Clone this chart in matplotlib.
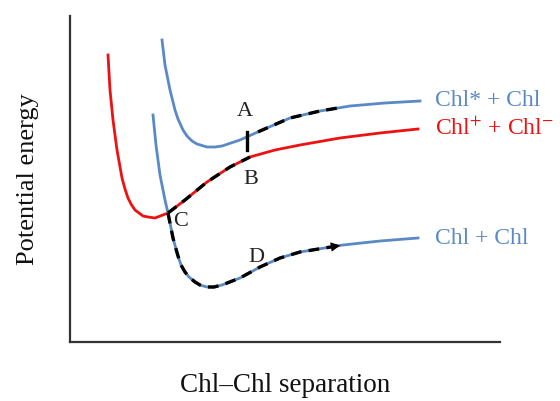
import numpy as np
import matplotlib.pyplot as plt

plt.rcParams['font.family'] = ['Liberation Serif', 'DejaVu Serif']
plt.rcParams['mathtext.fontset'] = 'stix'

# separation (arbitrary units) and potential energy (arbitrary units)
excited_x = [92, 95, 100, 105, 108, 113, 117, 122, 127, 137, 145, 152, 170, 190, 220, 250, 280, 315, 350]
excited_y = [302, 277, 252, 232, 223, 212, 206, 201, 198, 195, 195, 196, 202, 211, 224, 231, 236, 239, 241]

ion_x = [38, 40, 43, 47, 52, 55, 58, 61, 65, 69, 73, 78, 85, 98, 115, 137, 160, 180, 205, 230, 270, 310, 348]
ion_y = [287, 252, 222, 192, 164, 153, 144, 138, 132, 129, 126, 125, 124, 129, 142, 160, 175, 185, 192, 197, 204, 209, 213]

ground_x = [83, 86, 90, 95, 98, 103, 106, 108, 111, 115, 119, 125, 130, 137, 144, 152, 170, 190, 210, 230, 273, 310, 348]
ground_y = [227, 197, 167, 142, 129, 104, 93, 86, 77, 70, 65, 60, 57, 55, 55, 57, 64, 75, 84, 90, 97, 101, 104]

labels = ["Chl* + Chl", r"Chl$^{+}$ + Chl$^{-}$", "Chl + Chl"]
points = {"A": (175, 231), "B": (181, 162), "C": (111, 121), "D": (186, 84)}

blue = '#5a8ac6'
red = '#ee1111'

fig = plt.figure(figsize=(5.6, 4.01), dpi=100)
ax = fig.add_axes([70/560, 59/401, 430/560, 326/401])
ax.set_xlim(0, 430)
ax.set_ylim(0, 326)

ax.plot(excited_x, excited_y, color=blue, lw=2)
ax.plot(ion_x, ion_y, color=red, lw=2)
ax.plot(ground_x, ground_y, color=blue, lw=2)

dash = dict(color='black', lw=2.4, dashes=(3.2, 2.2))
ex = np.array(excited_x); ey = np.array(excited_y)
m = (ex >= 185) & (ex <= 270)
ax.plot(np.r_[188, ex[m], 267], np.r_[np.interp(188, ex, ey), ey[m], np.interp(267, ex, ey)], **dash)
ax.plot([177, 177], [192, 210], color='black', lw=2.4)
ix = np.array(ion_x); iy = np.array(ion_y)
m = (ix >= 98) & (ix <= 180)
ax.plot(ix[m], iy[m], **dash)
gx = np.array(ground_x); gy = np.array(ground_y)
m = (gx >= 98) & (gx <= 273)
ax.plot(gx[m], gy[m], **dash)
ax.annotate('', xy=(gx[m][-1], gy[m][-1]), xytext=(gx[m][-2], gy[m][-2]),
            arrowprops=dict(arrowstyle='-|>', color='black', lw=0, mutation_scale=17))

for k, (x, y) in points.items():
    ax.text(x, y, k, fontsize=16, ha='center', va='center', color='#222222')

ax.text(365, excited_y[-1], labels[0], color=blue, fontsize=17, va='center', clip_on=False)
ax.text(365, ion_y[-1], labels[1], color=red, fontsize=17, va='center', clip_on=False)
ax.text(365, ground_y[-1], labels[2], color=blue, fontsize=17, va='center', clip_on=False)

for s in ['top', 'right']:
    ax.spines[s].set_visible(False)
for s in ['left', 'bottom']:
    ax.spines[s].set_color('#333333')
    ax.spines[s].set_linewidth(1.6)
ax.set_xticks([])
ax.set_yticks([])
ax.set_xlabel("Chl–Chl separation", fontsize=19.5, color='#111111', labelpad=22)
ax.set_ylabel("Potential energy", fontsize=19, color='#111111', labelpad=22)

fig.savefig('out.png', dpi=100)
